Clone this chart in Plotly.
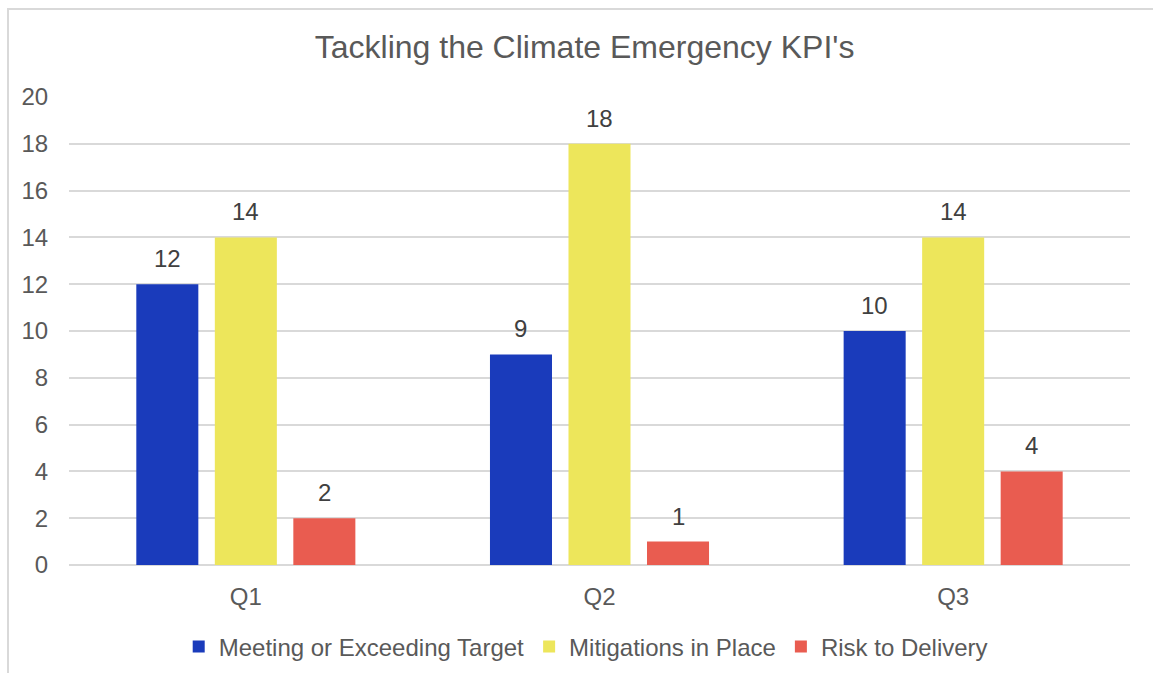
import plotly.graph_objects as go

categories = ["Q1", "Q2", "Q3"]
meeting = [12, 9, 10]
mitigations = [14, 18, 14]
risk = [2, 1, 4]
series_names = ["Meeting or Exceeding Target", "Mitigations in Place", "Risk to Delivery"]
colors = ["#1a3bbb", "#ede65b", "#e95c50"]
y_ticks = list(range(0, 21, 2))

FONT = "Liberation Sans, Arial"
BARGAP = 0.334
PLOT_W = 1153 - 69 - 23
slot = PLOT_W / len(categories) * (1 - BARGAP) / 3

fig = go.Figure()
annotations = []
for i, (name, vals, col) in enumerate(zip(series_names, [meeting, mitigations, risk], colors)):
    fig.add_trace(go.Bar(
        x=categories, y=vals, name=name, marker=dict(color=col, line=dict(width=0)),
    ))
    for c, v in zip(categories, vals):
        annotations.append(dict(x=c, y=v, xref="x", yref="y", text=str(v), showarrow=False,
                                xshift=(i - 1) * slot, yshift=10, yanchor="bottom",
                                font=dict(size=24, color="#404040", family=FONT)))

fig.update_layout(
    width=1153, height=673,
    margin=dict(l=69, r=23, t=97, b=108, autoexpand=False),
    paper_bgcolor="white", plot_bgcolor="white",
    font=dict(family=FONT, color="#595959", size=24),
    title=dict(text="Tackling the Climate Emergency KPI's", x=0.507, xanchor="center",
               y=1 - 47 / 673, yanchor="middle", font=dict(size=32, color="#595959")),
    barmode="group", bargap=BARGAP, bargroupgap=0.21,
    showlegend=True,
    legend=dict(orientation="h", x=0.487, xanchor="center", y=-0.175, yanchor="middle",
                font=dict(size=24, color="#595959"), itemwidth=30, traceorder="normal"),
    xaxis=dict(showgrid=False, showline=False, ticks="outside", ticklen=10,
               tickcolor="rgba(0,0,0,0)", tickfont=dict(size=24, color="#595959")),
    yaxis=dict(range=[0, 20], tickvals=y_ticks, showgrid=True, gridcolor="#d9d9d9", gridwidth=1.5,
               zeroline=True, zerolinecolor="#d9d9d9", zerolinewidth=1.5,
               showline=False, ticks="outside", ticklen=15, tickcolor="rgba(0,0,0,0)",
               tickfont=dict(size=24, color="#595959")),
    annotations=annotations,
    shapes=[dict(type="rect", xref="paper", yref="paper", x0=-0.0575, x1=1.2, y0=1.188, y1=-0.5,
                 line=dict(color="#d9d9d9", width=2), fillcolor="rgba(0,0,0,0)", layer="below")],
)
fig.write_html("out.html")
